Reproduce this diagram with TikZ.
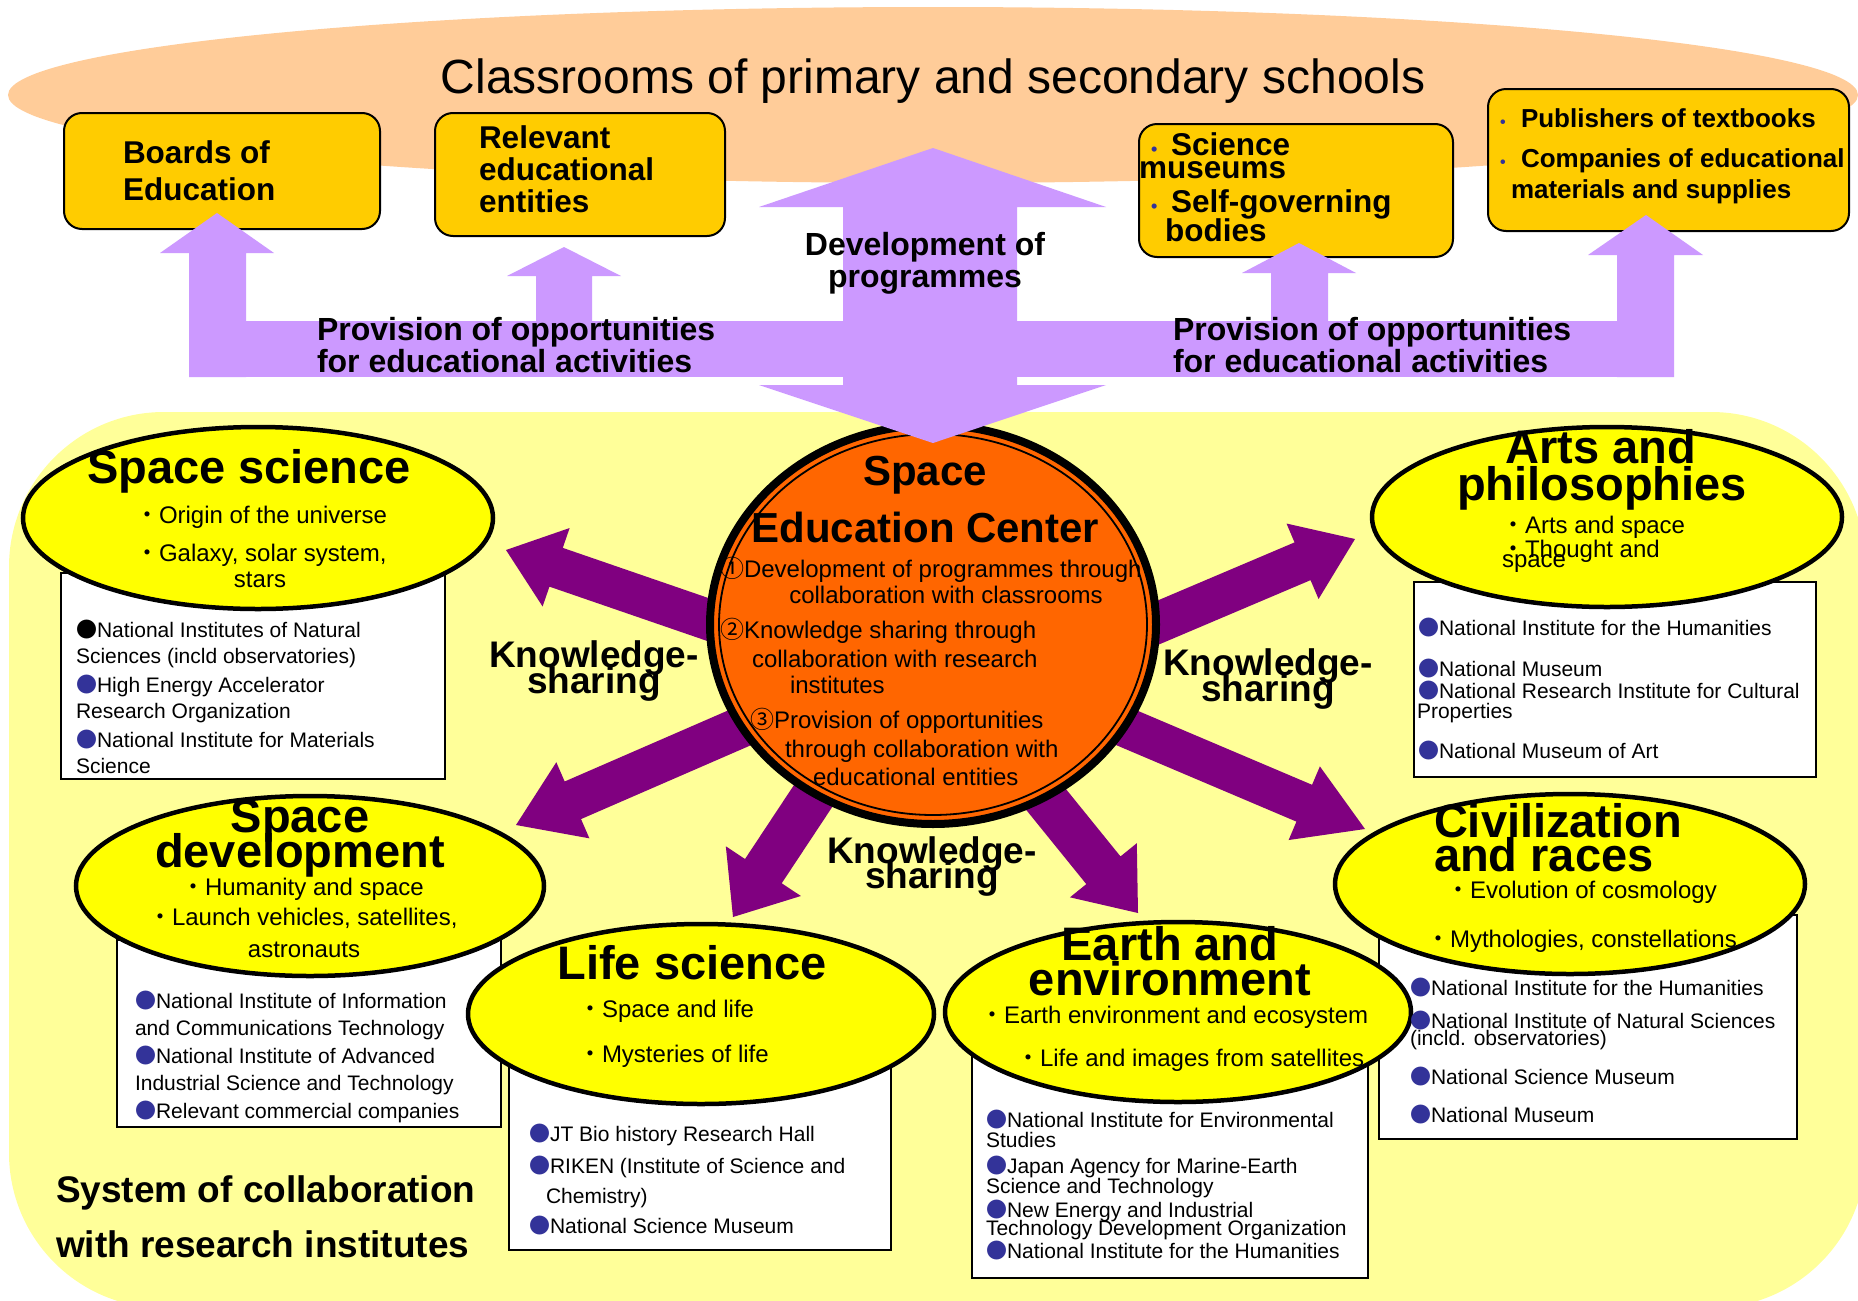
\documentclass[tikz,border=0pt]{standalone}
\usepackage{fontspec}
\setmainfont{Liberation Sans}
\newfontfamily\cjk{Noto Sans CJK JP}
\usetikzlibrary{shapes.geometric}
\definecolor{peach}{HTML}{FFCC99}
\definecolor{lav}{HTML}{CC99FF}
\definecolor{boxY}{HTML}{FFCC00}
\definecolor{bgY}{HTML}{FFFF99}
\definecolor{ellY}{HTML}{FFFF00}
\definecolor{orng}{HTML}{FF6600}
\definecolor{purp}{HTML}{800080}
\definecolor{bblue}{HTML}{333399}
\newcommand\fsz[1]{\fontsize{#1}{#1}\selectfont}
\newcommand\bb{\makebox[21pt][l]{\cjk\color{bblue}●}}
\newcommand\bk{\makebox[21pt][l]{\cjk ●}}
\newcommand\nd{{\cjk ・}}
\newcommand\sbul{\makebox[20pt][l]{\color{bblue}\fsz{18}•}}
\newcommand\Tline[5]{\node[#1] (#2) at (#3,#4) {#5};}
\newcommand\fatarr[6]{%
\begin{scope}[shift={(#1)},rotate=#2]
\fill[purp] (0pt,0pt) -- (-#5pt,#6pt) -- (-#5pt,#4pt) -- (-#3pt,#4pt) -- (-#3pt,-#4pt) -- (-#5pt,-#4pt) -- (-#5pt,-#6pt) -- cycle;
\end{scope}}
\tikzset{
 lw/.style={anchor=base west, inner sep=0pt, outer sep=0pt},
 lc/.style={anchor=base, inner sep=0pt, outer sep=0pt},
 ttl/.style={lc, font=\fsz{48}},
 boxtxt/.style={lw, font=\fsz{31.5}\bfseries},
 pubtxt/.style={lw, font=\fsz{26}\bfseries},
 lavtxt/.style={lw, font=\fsz{32}\bfseries},
 lavtxtc/.style={lc, font=\fsz{32}\bfseries},
 ctitle/.style={lc, font=\fsz{42}\bfseries},
 citem/.style={lw, font=\fsz{24}},
 citemc/.style={lc, font=\fsz{24}},
 ksh/.style={lc, font=\fsz{37}\bfseries},
 etitle/.style={lc, font=\fsz{47}\bfseries},
 etitlew/.style={lw, font=\fsz{47}\bfseries},
 eitem/.style={lw, font=\fsz{24}},
 eitemc/.style={lc, font=\fsz{24}},
 witem/.style={lw, font=\fsz{21}},
 systxt/.style={lw, font=\fsz{37}\bfseries},
 topbox/.style={draw, line width=2pt, fill=boxY, rounded corners=18pt, inner sep=0pt, outer sep=0pt},
 wbox/.style={draw, line width=2.5pt, fill=white, inner sep=0pt, outer sep=0pt},
 yell/.style={ellipse, draw, line width=4.5pt, fill=ellY, inner sep=0pt, outer sep=0pt},
}
\begin{document}
\begin{tikzpicture}[x=1pt,y=-1pt]
\useasboundingbox (0,0) rectangle (1858,1301);
\fill[white] (0,0) rectangle (1858,1301);
% classrooms ellipse
\node[ellipse, fill=peach, minimum width=1850pt, minimum height=176pt, inner sep=0pt] (cls) at (933,95) {};
% yellow background
\fill[bgY, rounded corners=155pt] (9,412) rectangle (1866,1308);
% top boxes
\node[topbox, minimum width=316pt, minimum height=116pt] (bEd) at (222,171) {};
\node[topbox, minimum width=290pt, minimum height=123pt] (bRel) at (580,174.5) {};
\node[topbox, minimum width=314pt, minimum height=133pt] (bSci) at (1296,190.5) {};
\node[topbox, minimum width=361pt, minimum height=142pt] (bPub) at (1668.5,160) {};
\Tline{boxtxt}{e1}{123}{163}{Boards of}
\Tline{boxtxt}{e2}{123}{200}{Education}
\Tline{boxtxt}{r1}{479}{148}{Relevant}
\Tline{boxtxt}{r2}{479}{180}{educational}
\Tline{boxtxt}{r3}{479}{212}{entities}
\Tline{boxtxt}{s1}{1151}{155}{\sbul Science}
\Tline{boxtxt}{s2}{1139}{178}{museums}
\Tline{boxtxt}{s3}{1151}{212}{\sbul Self-governing}
\Tline{boxtxt}{s4}{1165}{241}{bodies}
\Tline{pubtxt}{p1}{1500}{127}{\makebox[21pt][l]{\color{bblue}\fsz{16}•}Publishers of textbooks}
\Tline{pubtxt}{p2}{1500}{167}{\makebox[21pt][l]{\color{bblue}\fsz{16}•}Companies of educational}
\Tline{pubtxt}{p3}{1511}{198}{materials and supplies}
\Tline{ttl}{title}{933}{93}{Classrooms of primary and secondary schools}
% purple knowledge-sharing arrows
\coordinate (a1) at (506,550);
\coordinate (a2) at (516,825);
\coordinate (a3) at (733,917);
\coordinate (a4) at (1138,913);
\coordinate (a5) at (1365,829);
\coordinate (a6) at (1355,539);
\fatarr{a1}{161}{300}{20.5}{53}{41.5}
\fatarr{a2}{203.5}{300}{20.5}{62}{41.5}
\fatarr{a3}{236.5}{250}{22}{55}{45}
\fatarr{a4}{309}{250}{22}{55}{43}
\fatarr{a5}{337}{300}{20}{66}{40}
\fatarr{a6}{23}{300}{20.5}{57}{41}
\Tline{ksh}{k1a}{594}{667}{Knowledge-}
\Tline{ksh}{k1b}{594}{693}{sharing}
\Tline{ksh}{k2a}{932}{863}{Knowledge-}
\Tline{ksh}{k2b}{932}{888}{sharing}
\Tline{ksh}{k3a}{1268}{675}{Knowledge-}
\Tline{ksh}{k3b}{1268}{701}{sharing}
% white boxes
\node[wbox, minimum width=384pt, minimum height=206pt] (wSS) at (253,676) {};
\node[wbox, minimum width=384pt, minimum height=187pt] (wSD) at (309,1033.5) {};
\node[wbox, minimum width=382pt, minimum height=200pt] (wLS) at (700,1150) {};
\node[wbox, minimum width=396pt, minimum height=238pt] (wEA) at (1170,1159) {};
\node[wbox, minimum width=418pt, minimum height=224pt] (wCV) at (1588,1027) {};
\node[wbox, minimum width=402pt, minimum height=195pt] (wAR) at (1615,679.5) {};
% ellipses
\node[yell, minimum width=470pt, minimum height=182pt] (eSS) at (258,518) {};
\node[yell, minimum width=468pt, minimum height=180pt] (eSD) at (310,886) {};
\node[yell, minimum width=466pt, minimum height=180pt] (eLS) at (701,1014) {};
\node[yell, minimum width=466pt, minimum height=180pt] (eEA) at (1178,1012) {};
\node[yell, minimum width=470pt, minimum height=180pt] (eCV) at (1570,884) {};
\node[yell, minimum width=470pt, minimum height=180pt] (eAR) at (1607,517) {};
% ellipse texts
\Tline{etitle}{ss0}{249}{483}{Space science}
\Tline{eitem}{ss1}{135}{523}{\nd Origin of the universe}
\Tline{eitem}{ss2}{135}{561}{\nd Galaxy, solar system,}
\Tline{eitemc}{ss3}{260}{587}{stars}
\Tline{etitle}{sd0}{300}{832}{Space}
\Tline{etitle}{sd1}{300}{867}{development}
\Tline{eitem}{sd2}{181}{895}{\nd Humanity and space}
\Tline{eitem}{sd3}{148}{925}{\nd Launch vehicles, satellites,}
\Tline{eitemc}{sd4}{304}{957}{astronauts}
\Tline{etitle}{ls0}{692}{979}{Life science}
\Tline{eitem}{ls1}{578}{1017}{\nd Space and life}
\Tline{eitem}{ls2}{578}{1062}{\nd Mysteries of life}
\Tline{etitle}{ea0}{1170}{960}{Earth and}
\Tline{etitle}{ea1}{1170}{995}{environment}
\Tline{eitem}{ea2}{980}{1023}{\nd Earth environment and ecosystem}
\Tline{eitem}{ea3}{1016}{1066}{\nd Life and images from satellites}
\Tline{etitlew}{cv0}{1434}{837}{Civilization}
\Tline{etitlew}{cv1}{1434}{871}{and races}
\Tline{eitem}{cv2}{1446}{898}{\nd Evolution of cosmology}
\Tline{eitem}{cv3}{1426}{947}{\nd Mythologies, constellations}
\Tline{etitle}{ar0}{1601}{463}{Arts and}
\Tline{etitle}{ar1}{1602}{500}{philosophies}
\Tline{eitem}{ar2}{1501}{533}{\nd Arts and space}
\Tline{eitem}{ar3}{1501}{557}{\nd Thought and}
\Tline{eitem}{ar4}{1502}{567}{space}
% white box texts
\Tline{witem}{w11}{76}{637}{\bk National Institutes of Natural}
\Tline{witem}{w12}{76}{663}{Sciences (incld observatories)}
\Tline{witem}{w13}{76}{692}{\bb High Energy Accelerator}
\Tline{witem}{w14}{76}{718}{Research Organization}
\Tline{witem}{w15}{76}{747}{\bb National Institute for Materials}
\Tline{witem}{w16}{76}{773}{Science}
\Tline{witem}{w21}{135}{1008}{\bb National Institute of Information}
\Tline{witem}{w22}{135}{1035}{and Communications Technology}
\Tline{witem}{w23}{135}{1063}{\bb National Institute of Advanced}
\Tline{witem}{w24}{135}{1090}{Industrial Science and Technology}
\Tline{witem}{w25}{135}{1118}{\bb Relevant commercial companies}
\Tline{witem}{w31}{529}{1141}{\bb JT Bio history Research Hall}
\Tline{witem}{w32}{529}{1173}{\bb RIKEN (Institute of Science and}
\Tline{witem}{w33}{546}{1203}{Chemistry)}
\Tline{witem}{w34}{529}{1233}{\bb National Science Museum}
\Tline{witem}{w41}{986}{1127}{\bb National Institute for Environmental}
\Tline{witem}{w42}{986}{1147}{Studies}
\Tline{witem}{w43}{986}{1173}{\bb Japan Agency for Marine-Earth}
\Tline{witem}{w44}{986}{1193}{Science and Technology}
\Tline{witem}{w45}{986}{1217}{\bb New Energy and Industrial}
\Tline{witem}{w46}{986}{1235}{Technology Development Organization}
\Tline{witem}{w47}{986}{1258}{\bb National Institute for the Humanities}
\Tline{witem}{w51}{1410}{995}{\bb National Institute for the Humanities}
\Tline{witem}{w52}{1410}{1028}{\bb National Institute of Natural Sciences}
\Tline{witem}{w53}{1410}{1045}{(incld. observatories)}
\Tline{witem}{w54}{1410}{1084}{\bb National Science Museum}
\Tline{witem}{w55}{1410}{1122}{\bb National Museum}
\Tline{witem}{w61}{1418}{635}{\bb National Institute for the Humanities}
\Tline{witem}{w62}{1418}{676}{\bb National Museum}
\Tline{witem}{w63}{1418}{698}{\bb National Research Institute for Cultural}
\Tline{witem}{w64}{1417}{718}{Properties}
\Tline{witem}{w65}{1418}{758}{\bb National Museum of Art}
\Tline{systxt}{sy1}{56}{1202}{System of collaboration}
\Tline{systxt}{sy2}{56}{1257}{with research institutes}
% centre
\node[ellipse, draw, line width=8pt, fill=orng, minimum width=446pt, minimum height=399pt, inner sep=0pt] (sec) at (933,624.5) {};
\draw[line width=1.8pt] (sec.center) ellipse [x radius=214pt, y radius=190.5pt];
\Tline{ctitle}{c0}{925}{485}{Space}
\Tline{ctitle}{c1}{925.5}{542}{Education Center}
\Tline{citem}{c2}{720}{577}{{\cjk ①}Development of programmes through}
\Tline{citemc}{c3}{946}{603}{collaboration with classrooms}
\Tline{citem}{c4}{720}{638}{{\cjk ②}Knowledge sharing through}
\Tline{citem}{c5}{752}{667}{collaboration with research}
\Tline{citem}{c6}{790}{693}{institutes}
\Tline{citem}{c7}{750}{728}{{\cjk ③}Provision of opportunities}
\Tline{citem}{c8}{785}{757}{through collaboration with}
\Tline{citem}{c9}{813}{785}{educational entities}
% lavender arrows
\fill[lav] (933,148) -- (1106,207) -- (1017,207) -- (1017,385) -- (1106,385) -- (933,443) -- (759,385) -- (843,385) -- (843,207) -- (759,207) -- cycle;
\fill[lav] (189,321) rectangle (843,377);
\fill[lav] (1017,321) rectangle (1674,377);
\fill[lav] (189,377) -- (189,253) -- (160,253) -- (217,213) -- (274,253) -- (246,253) -- (246,377) -- cycle;
\fill[lav] (536,321) -- (536,276) -- (507,276) -- (564,247) -- (621,276) -- (592,276) -- (592,321) -- cycle;
\fill[lav] (1271,321) -- (1271,273) -- (1242,273) -- (1299,243) -- (1356,273) -- (1328,273) -- (1328,321) -- cycle;
\fill[lav] (1617,377) -- (1617,255) -- (1588,255) -- (1646,215) -- (1703,255) -- (1674,255) -- (1674,377) -- cycle;
\Tline{lavtxtc}{d1}{925}{255}{Development of}
\Tline{lavtxtc}{d2}{925}{287}{programmes}
\Tline{lavtxt}{pl1}{317}{340}{Provision of opportunities}
\Tline{lavtxt}{pl2}{317}{372}{for educational activities}
\Tline{lavtxt}{pr1}{1173}{340}{Provision of opportunities}
\Tline{lavtxt}{pr2}{1173}{372}{for educational activities}
\end{tikzpicture}
\end{document}
